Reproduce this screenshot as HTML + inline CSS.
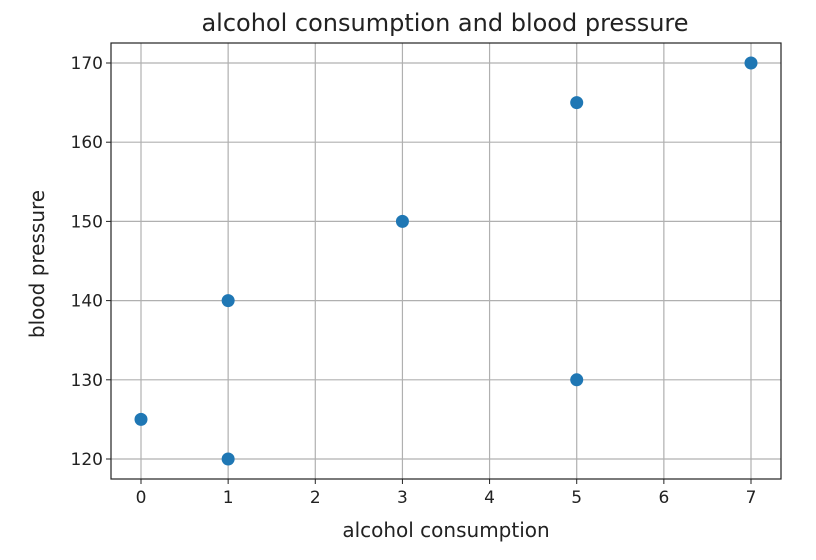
<!DOCTYPE html>
<html><head><meta charset="utf-8"><style>
body{margin:0;background:#fff;}
svg{display:block;font-family:"DejaVu Sans","Liberation Sans",sans-serif;}
</style></head><body>
<svg id="chart" width="816" height="560">
<text x="445" y="31" text-anchor="middle" font-size="24" fill="#222">alcohol consumption and blood pressure</text>
<text x="446" y="537" text-anchor="middle" font-size="20" fill="#222">alcohol consumption</text>
<text transform="translate(44,264) rotate(-90)" text-anchor="middle" font-size="20" fill="#222">blood pressure</text>
<g id="grid"></g><g id="axes"></g><g id="points"></g>
</svg>
<script>
const xValues=[0,1,1,3,5,5,7];
const yValues=[125,120,140,150,165,130,170];
const xTicks=[0,1,2,3,4,5,6,7];
const yTicks=[120,130,140,150,160,170];
const L=111,R=781,T=43,B=479;
const X=v=>141+v*(751-141)/7;
const Y=v=>459-(v-120)*(459-63)/50;
const ns="http://www.w3.org/2000/svg";
function mk(t,a,p){const e=document.createElementNS(ns,t);for(const k in a)e.setAttribute(k,a[k]);p.appendChild(e);return e;}
const g=document.getElementById('grid'),ax=document.getElementById('axes'),pts=document.getElementById('points');
xTicks.forEach(t=>{const x=X(t);
const l=mk('line',{x1:x,x2:x,y1:T,y2:B,stroke:'#b0b0b0','stroke-width':1.2},g);


mk('line',{x1:x,x2:x,y1:B,y2:B+5,stroke:'#222','stroke-width':1},ax);
const tx=mk('text',{x:x,y:B+24,'text-anchor':'middle','font-size':17,fill:'#222'},ax);tx.textContent=t;

});
yTicks.forEach(t=>{const y=Y(t);
const l=mk('line',{x1:L,x2:R,y1:y,y2:y,stroke:'#b0b0b0','stroke-width':1.2},g);


mk('line',{x1:L-5,x2:L,y1:y,y2:y,stroke:'#222','stroke-width':1},ax);
const tx=mk('text',{x:L-8,y:y+6,'text-anchor':'end','font-size':17,fill:'#222'},ax);tx.textContent=t;

});
const fr=mk('rect',{x:L,y:T,width:R-L,height:B-T,fill:'none',stroke:'#222','stroke-width':1.2},ax);


xValues.forEach((v,i)=>{const c=mk('circle',{cx:X(v),cy:Y(yValues[i]),r:6.5,fill:'#1f77b4'},pts);

});
</script>
</body></html>
